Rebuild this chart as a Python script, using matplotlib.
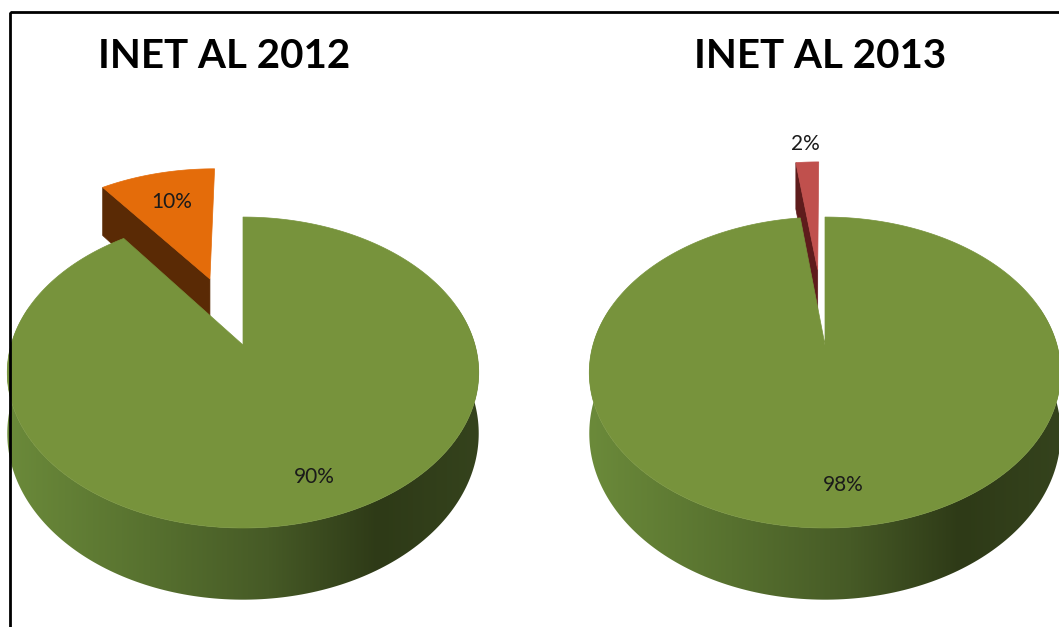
import numpy as np
import matplotlib.pyplot as plt
from matplotlib.patches import Polygon, Rectangle
from matplotlib.colors import LinearSegmentedColormap

# data
titles = ['INET AL 2012', 'INET AL 2013']
shares_2012 = [90, 10]
shares_2013 = [98, 2]
top_2012 = ['#77933c', '#e46c0a']
top_2013 = ['#77933c', '#c0504d']
cut_2012 = ['#3f5020', '#5a2a05']
cut_2013 = ['#3f5020', '#5e1c1c']

# 3d look (pixel units)
centers_x = [243, 825]
title_x = [224, 820]
cy = 345
A = 232      # horizontal radius
P = 150.6    # vertical radius
K = -0.177   # perspective
D = 59       # thickness
explode = [0.5, 0.55]
fonts = ['Lato', 'DejaVu Sans']

side_cmap = LinearSegmentedColormap.from_list('side', [
    (0.0, '#6b8a3a'), (0.3, '#57712f'), (0.55, '#465a26'),
    (0.78, '#2e3a17'), (1.0, '#35431d')])


def proj(cx, x, v, drop=0.0):
    den = 1 + K * v
    return cx + A * x / den, cy + P * v / den + drop / den


def pt(cx, r, th, e, phi, drop=0.0):
    t = np.radians(th)
    p = np.radians(phi)
    x = r * np.sin(t) + e * np.sin(p)
    v = -r * np.cos(t) - e * np.cos(p)
    return proj(cx, x, v, drop)


fig = plt.figure(figsize=(10.59, 6.27), dpi=100)
ax = fig.add_axes([0, 0, 1, 1])
ax.axis('off')

z = 1
for i, (shares, tops, cuts) in enumerate([(shares_2012, top_2012, cut_2012),
                                          (shares_2013, top_2013, cut_2013)]):
    cx = centers_x[i]
    big, small = shares
    a_big, b_big = 0, 360 * big / 100
    a_sm, b_sm = b_big, 360
    phi = (a_sm + b_sm) / 2
    e = explode[i]

    # small slice: cut face then top
    ap = pt(cx, 0, 0, e, phi)
    apd = pt(cx, 0, 0, e, phi, D)
    rim = pt(cx, 1, a_sm, e, phi)
    rimd = pt(cx, 1, a_sm, e, phi, D)
    ax.add_patch(Polygon([ap, rim, rimd, apd], closed=True, fc=cuts[1],
                         ec=cuts[1], lw=0.5, zorder=z))
    z += 1
    th = np.linspace(a_sm, b_sm, 60)
    arc = [pt(cx, 1, t, e, phi) for t in th]
    ax.add_patch(Polygon([ap] + arc, closed=True, fc=tops[1], ec=tops[1],
                         lw=0.5, zorder=z))
    z += 1

    # big slice: curved wall with gradient, then top
    th = np.linspace(max(a_big, 75), min(b_big, 285), 200)
    upper = [pt(cx, 1, t, 0, 0) for t in th]
    lower = [pt(cx, 1, t, 0, 0, D) for t in th[::-1]]
    wall = Polygon(upper + lower, closed=True, transform=ax.transData)
    im = ax.imshow(np.linspace(0, 1, 256).reshape(1, -1), cmap=side_cmap,
                   extent=(cx - 236, cx + 240, 620, 300), aspect='auto',
                   zorder=z, interpolation='bilinear')
    im.set_clip_path(wall)
    z += 1
    th = np.linspace(a_big, b_big, 300)
    arc = [pt(cx, 1, t, 0, 0) for t in th]
    ax.add_patch(Polygon([pt(cx, 0, 0, 0, 0)] + arc, closed=True, fc=tops[0],
                         ec=tops[0], lw=0.5, zorder=z))
    z += 1

    # labels
    bis = (a_big + b_big) / 2
    lx, ly = pt(cx, 0.8, bis, 0, 0)
    ax.text(lx + 5, ly, f'{big}%', ha='center', va='center', fontsize=15,
            family=fonts, color='#1a1a1a', zorder=50)
    r = 0.7 if small >= 5 else 1.2
    lx, ly = pt(cx, r, phi, e, phi)
    ax.text(lx, ly, f'{small}%', ha='center', va='center', fontsize=15,
            family=fonts, color='#1a1a1a', zorder=50)

    ax.text(title_x[i], 56, titles[i], ha='center', va='center',
            fontsize=29, fontweight='bold', family=fonts, color='black', zorder=50)

# frame
ax.add_patch(Rectangle((10, 12), 1100, 700, fill=False, ec='black', lw=2, zorder=60))

ax.set_xlim(0, 1059)
ax.set_ylim(627, 0)
fig.savefig('out.png', dpi=100)
